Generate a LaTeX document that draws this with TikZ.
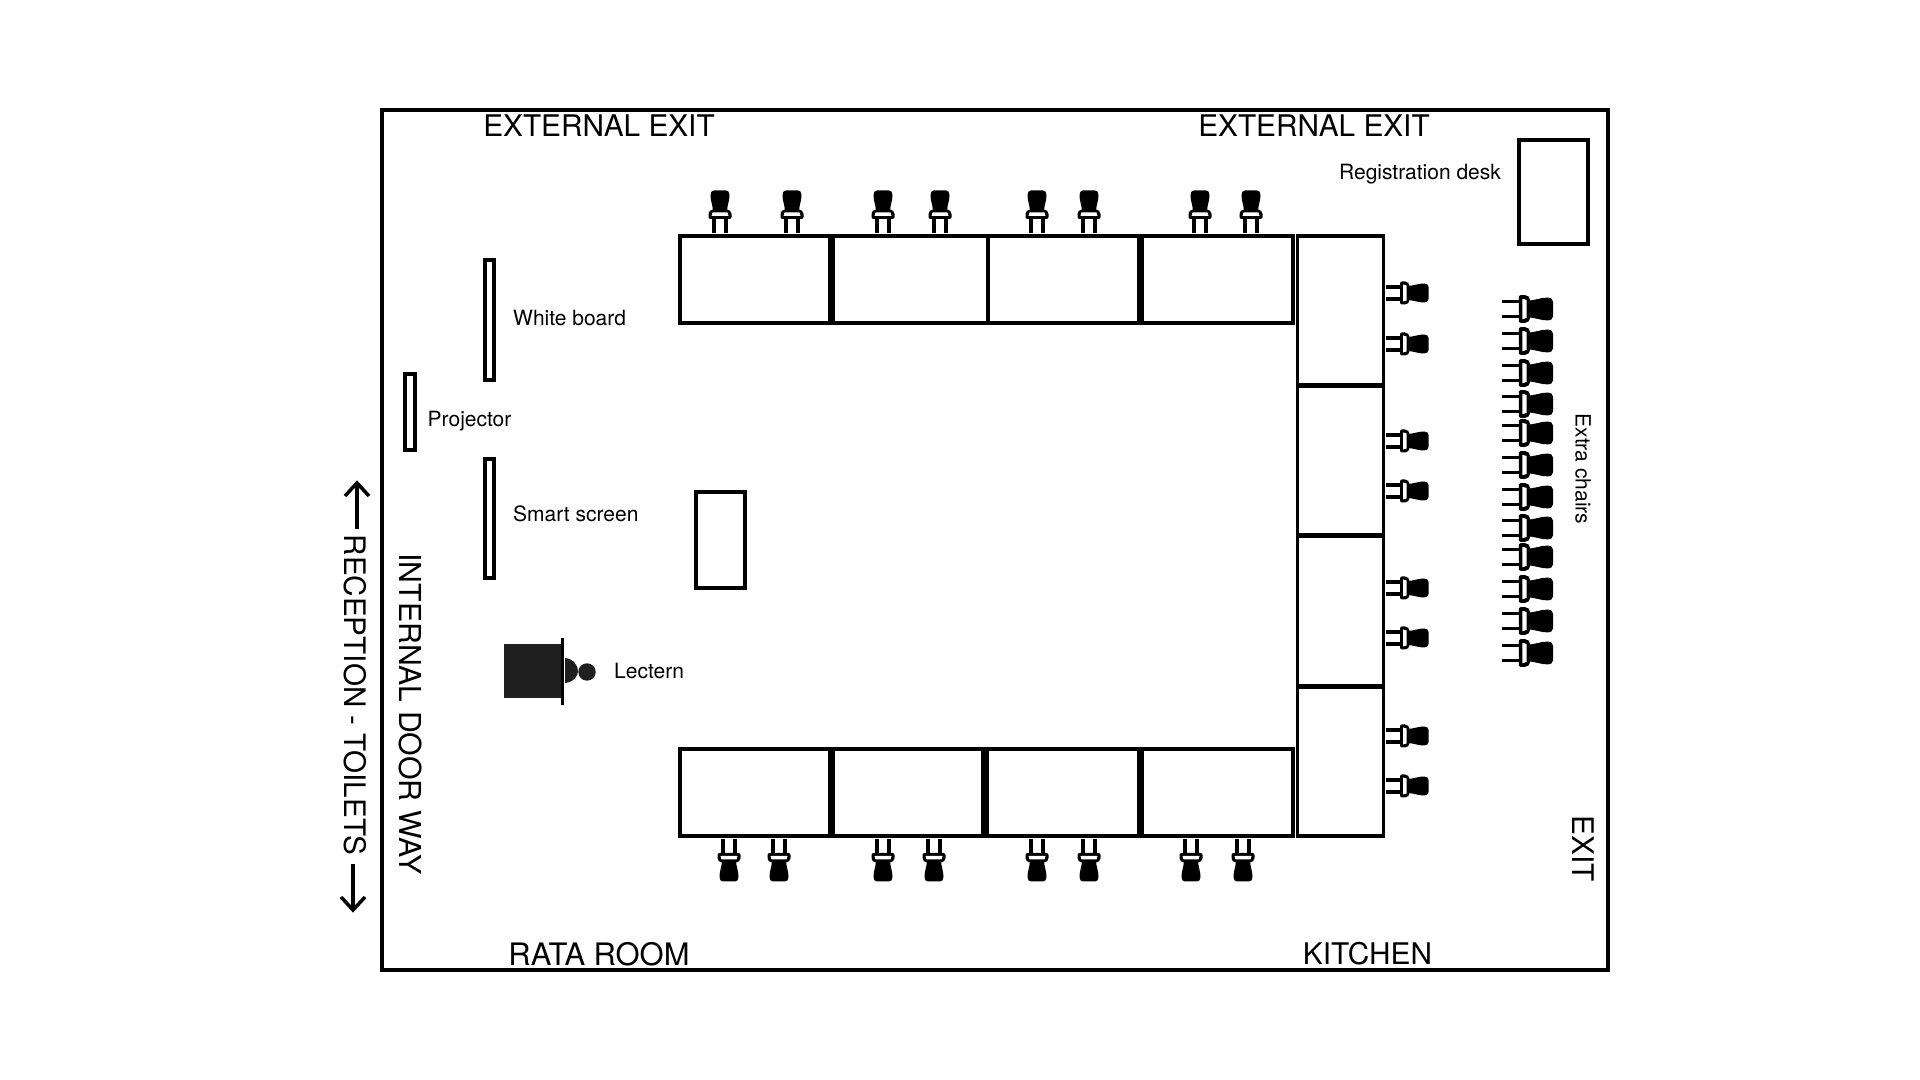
\documentclass[tikz,border=0pt]{standalone}
\usepackage{fontspec}
\setmainfont{TeX Gyre Heros}
\tikzset{
  wall/.style={draw=black,line width=0.037cm,fill=white},
  thinbox/.style={draw=black,line width=0.032cm,fill=white},
  biglabel/.style={inner sep=0pt,font=\fontsize{8.47pt}{10pt}\selectfont,text=black},
  smalllabel/.style={inner sep=0pt,font=\fontsize{5.97pt}{8pt}\selectfont,text=black},
  seatpic/.pic={
    \draw[black,line width=0.032cm] (-6,0) -- (-6,-15) (6,0) -- (6,-15);
    \fill[black,rounded corners=0.02cm] (-11.5,-14) -- (11.5,-14) -- (11.5,-21) -- (9,-23.5) -- (-9,-23.5) -- (-11.5,-21) -- cycle;
    \fill[white] (-8.5,-17) -- (8.5,-17) -- (7.5,-20.5) -- (-7.5,-20.5) -- cycle;
    \fill[black] (-7,-22) .. controls (-7.5,-29) and (-9.5,-32) .. (-9.5,-38) .. controls (-9.5,-41) and (-8,-42.5) .. (-6,-42.5) -- (6,-42.5) .. controls (8,-42.5) and (9.5,-41) .. (9.5,-38) .. controls (9.5,-32) and (7.5,-29) .. (7,-22) -- cycle;
  }
}
\begin{document}
\begin{tikzpicture}[x=0.01cm,y=-0.01cm]
\useasboundingbox (0,0) rectangle (1920,1080);
\fill[white] (0,0) rectangle (1920,1080);
\draw[wall] (382,110) rectangle (1608,970);
% tables: top row
\draw[wall] (680,236) rectangle (830,323);
\draw[wall] (833.5,236) rectangle (988,323);
\draw[wall] (988,236) rectangle (1139,323);
\draw[wall] (1142,236) rectangle (1293,323);
% tables: bottom row
\draw[wall] (680,749) rectangle (830,836);
\draw[wall] (833,749) rectangle (983,836);
\draw[wall] (987,749) rectangle (1139,836);
\draw[wall] (1142,749) rectangle (1293,836);
% tables: right column
\draw[wall] (1297.5,236) rectangle (1383.5,384.5);
\draw[wall] (1297.5,386.5) rectangle (1383.5,534.5);
\draw[wall] (1297.5,536.5) rectangle (1383.5,685.5);
\draw[wall] (1297.5,687.5) rectangle (1383.5,836);
% furniture
\draw[wall] (1519,140) rectangle (1588,244);
\draw[wall] (696,492) rectangle (745,588);
\draw[thinbox] (485,260) rectangle (494,380);
\draw[thinbox] (405,374) rectangle (415,450);
\draw[thinbox] (485,459) rectangle (494,578);
% lectern
\fill[black!88] (503.5,644) rectangle (562,698);
\draw[black,line width=0.035cm] (562.5,638) -- (562.5,705);
\fill[black!88] (565,658) .. controls (574,659) and (578,666) .. (578,671) .. controls (578,676) and (574,682) .. (565,683) -- cycle;
\fill[black!88] (587,672) circle [radius=8.7];
% chairs
\foreach \cx in {720,792,883,940,1037,1089,1200,1251}
  \pic at (\cx,233) {seatpic};
\foreach \cx in {729,779,883,934,1037,1089,1191,1243}
  \pic[rotate=180] at (\cx,839) {seatpic};
\foreach \cy in {293,344,441,491,588,638,736,786}
  \pic[rotate=-90] at (1386,\cy) {seatpic};
\foreach \cy in {309,341,373,404,433,465,497,528,557,589,621,653}
  \pic[rotate=-90,scale=1.2] at (1502,\cy) {seatpic};
% labels
\node[biglabel] (exitA) at (599,126) {EXTERNAL EXIT};
\node[biglabel] (exitB) at (1314,126) {EXTERNAL EXIT};
\node[biglabel,font=\fontsize{8.8pt}{10pt}\selectfont] (rata) at (599,954) {RATA ROOM};
\node[biglabel] (kitchen) at (1367.5,954) {KITCHEN};
\node[biglabel,rotate=-90] (exitC) at (1583.5,849) {EXIT};
\node[biglabel,font=\fontsize{8.6pt}{10pt}\selectfont,rotate=-90] (door) at (411,714) {INTERNAL DOOR WAY};
\node[biglabel,font=\fontsize{8.42pt}{10pt}\selectfont,rotate=-90] (reception) at (355,695) {RECEPTION - TOILETS};
\node[smalllabel] (reg) at (1420,174) {Registration desk};
\node[smalllabel,anchor=west] (white) at (512.5,318.5) {White board};
\node[smalllabel,anchor=west] (proj) at (427,421) {Projector};
\node[smalllabel,anchor=west] (smart) at (512.5,514) {Smart screen};
\node[smalllabel,anchor=west] (lect) at (613.5,671) {Lectern};
\node[smalllabel,rotate=-90] (extra) at (1583,469) {Extra chairs};
% arrows
\coordinate (upTail) at (357,529);
\coordinate (upHead) at (357,483);
\coordinate (downTail) at (353,864);
\coordinate (downHead) at (353,910);
\draw[black,line width=0.035cm] (upTail) -- (upHead);
\draw[black,line width=0.035cm,line join=miter] (345,496) -- (upHead) -- (369,496);
\draw[black,line width=0.035cm] (downTail) -- (downHead);
\draw[black,line width=0.035cm,line join=miter] (341,897) -- (downHead) -- (365,897);
\end{tikzpicture}
\end{document}
